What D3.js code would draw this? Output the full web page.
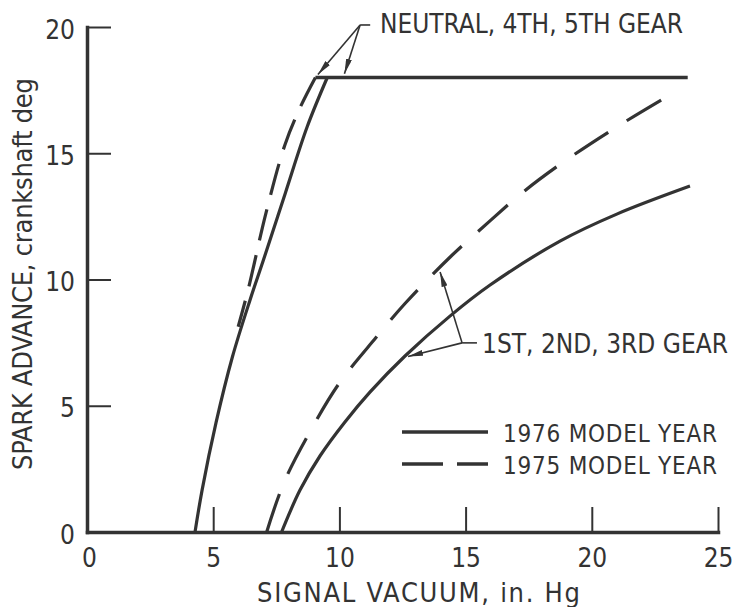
<!DOCTYPE html>
<html>
<head>
<meta charset="utf-8">
<script src="https://cdn.jsdelivr.net/npm/d3@7"></script>
<style>
  body { margin: 0; background: #fff; }
  svg text {
    font-family: "Liberation Sans Narrow", "DejaVu Sans Condensed", "Roboto Condensed", "Liberation Sans", sans-serif;
    font-stretch: condensed;
    fill: #333;
  }
</style>
</head>
<body>
<svg id="chart" width="735" height="607"></svg>
<script>
// Axis ticks
const xTickValues = [0, 5, 10, 15, 20, 25];
const yTickValues = [0, 5, 10, 15, 20];

// Neutral, 4th, 5th gear — 1976 model year (solid)
const neutral1976X = [4.28, 4.56, 5.11, 5.76, 6.46, 6.99, 7.86, 8.72, 9.52];
const neutral1976Y = [0, 1.66, 4.32, 6.93, 9.19, 10.77, 13.43, 16.04, 18.0];

// Neutral, 4th, 5th gear — 1975 model year (dashed), traced from the knee downward
const neutral1975X = [9.05, 8.44, 7.84, 7.09, 6.38, 5.99];
const neutral1975Y = [18, 16.8, 15.33, 12.63, 9.58, 8.13];

// Common maximum-advance plateau
const plateauX = [9.05, 23.8];
const plateauY = [18, 18];

// 1st, 2nd, 3rd gear — 1976 model year (solid)
const gear1976X = [7.71, 8.44, 9.23, 10.22, 11.21, 12.6, 14.38, 15.97, 18.74, 20.99, 23.89];
const gear1976Y = [0, 1.66, 3.01, 4.36, 5.54, 6.97, 8.55, 9.78, 11.52, 12.59, 13.7];

// 1st, 2nd, 3rd gear — 1975 model year (dashed)
const gear1975X = [7.12, 7.8, 8.85, 10.0, 11.45, 12.6, 14.4, 16.0, 17.2, 18.8, 21.0, 23.25];
const gear1975Y = [0, 1.95, 4.0, 5.9, 7.7, 9.05, 10.9, 12.35, 13.4, 14.6, 16.05, 17.4];

// Labels
const xTitle = "SIGNAL VACUUM,  in. Hg";
const yTitle = "SPARK ADVANCE,  crankshaft deg";
const neutralLabel = "NEUTRAL,  4TH,  5TH GEAR";
const gearLabel = "1ST,  2ND,  3RD GEAR";
const legendLabels = ["1976 MODEL YEAR", "1975 MODEL YEAR"];

const ink = "#333";
const svg = d3.select("#chart");

const x = d3.scaleLinear().domain([0, 25]).range([87, 718]);
const y = d3.scaleLinear().domain([0, 20]).range([532, 27]);

const zip = (xs, ys) => xs.map((v, i) => [v, ys[i]]);
const line = d3.line().x(d => x(d[0])).y(d => y(d[1])).curve(d3.curveCatmullRom.alpha(0.5));

// Arrowhead marker for the callouts
svg.append("defs").append("marker")
  .attr("id", "arrow")
  .attr("viewBox", "0 0 15 6")
  .attr("refX", 15).attr("refY", 3)
  .attr("markerWidth", 15).attr("markerHeight", 6)
  .attr("markerUnits", "userSpaceOnUse")
  .attr("orient", "auto")
  .append("path").attr("d", "M0,0 L15,3 L0,6 Z").attr("fill", ink);

// Axes: ticks point into the plot
const xAxis = svg.append("g").attr("transform", `translate(0,${y(0)})`)
  .call(d3.axisBottom(x).tickValues(xTickValues).tickSize(-25).tickSizeOuter(0).tickFormat(d3.format("d")));
const yAxis = svg.append("g").attr("transform", `translate(${x(0)},0)`)
  .call(d3.axisLeft(y).tickValues(yTickValues).tickSize(-24).tickSizeOuter(0).tickFormat(d3.format("d")));

[xAxis, yAxis].forEach(g => {
  g.select(".domain").attr("stroke", ink).attr("stroke-width", 3.5).attr("stroke-linecap", "square");
  g.selectAll(".tick line").attr("stroke", ink).attr("stroke-width", 2);
  g.selectAll(".tick text").attr("font-size", 26).attr("fill", ink);
});
xAxis.selectAll(".tick line").filter(d => d === 0).remove();
yAxis.selectAll(".tick line").filter(d => d === 0).remove();
xAxis.selectAll(".tick text").attr("y", 35).attr("dy", null).attr("text-anchor", "middle");
xAxis.selectAll(".tick text").filter(d => d === 0).attr("dx", 2);
yAxis.selectAll(".tick text").attr("x", -12).attr("dy", null).attr("y", 11).attr("text-anchor", "end");

// Axis titles
svg.append("text")
  .attr("x", 257).attr("y", 602)
  .attr("font-size", 27)
  .attr("textLength", 323).attr("lengthAdjust", "spacing")
  .text(xTitle);

svg.append("text")
  .attr("transform", "translate(32,470) rotate(-90)")
  .attr("font-size", 27)
  .attr("textLength", 392).attr("lengthAdjust", "spacing")
  .text(yTitle);

// Curves
const curves = svg.append("g").attr("fill", "none").attr("stroke", ink)
  .attr("stroke-width", 3.2).attr("stroke-linejoin", "round");

curves.append("path").attr("d", line(zip(plateauX, plateauY))).attr("stroke-width", 3.6);
curves.append("path").attr("d", line(zip(neutral1976X, neutral1976Y)));
curves.append("path").attr("d", line(zip(neutral1975X, neutral1975Y)))
  .attr("stroke-dasharray", "32,15");
curves.append("path").attr("d", line(zip(gear1976X, gear1976Y)));
curves.append("path").attr("d", line(zip(gear1975X, gear1975Y)))
  .attr("stroke-dasharray", "40,22");

// Callouts
const callouts = svg.append("g").attr("fill", "none").attr("stroke", ink).attr("stroke-width", 1.6);

// Neutral, 4th, 5th gear callout
const nVertex = [10.82, 20.08];
callouts.append("line")
  .attr("x1", x(nVertex[0])).attr("y1", y(nVertex[1]))
  .attr("x2", x(11.22)).attr("y2", y(nVertex[1]));
[[9.15, 18.12], [10.2, 18.15]].forEach(t => {
  callouts.append("line")
    .attr("x1", x(nVertex[0])).attr("y1", y(nVertex[1]))
    .attr("x2", x(t[0])).attr("y2", y(t[1]))
    .attr("marker-end", "url(#arrow)");
});
svg.append("text")
  .attr("x", x(11.61)).attr("y", y(19.76))
  .attr("font-size", 26)
  .attr("textLength", 303).attr("lengthAdjust", "spacing")
  .text(neutralLabel);

// 1st, 2nd, 3rd gear callout
const gVertex = [14.86, 7.49];
callouts.append("line")
  .attr("x1", x(gVertex[0])).attr("y1", y(gVertex[1]))
  .attr("x2", x(15.45)).attr("y2", y(gVertex[1]));
[[13.99, 10.3], [12.72, 6.95]].forEach(t => {
  callouts.append("line")
    .attr("x1", x(gVertex[0])).attr("y1", y(gVertex[1]))
    .attr("x2", x(t[0])).attr("y2", y(t[1]))
    .attr("marker-end", "url(#arrow)");
});
svg.append("text")
  .attr("x", x(15.65)).attr("y", y(7.09))
  .attr("font-size", 26)
  .attr("textLength", 246).attr("lengthAdjust", "spacing")
  .text(gearLabel);

// Legend
const legend = svg.append("g").attr("transform", "translate(402,432)");
const legendRows = legend.selectAll("g").data(legendLabels).join("g")
  .attr("transform", (d, i) => `translate(0,${i * 32})`);
legendRows.append("line")
  .attr("x1", 0).attr("x2", 86).attr("y1", 0).attr("y2", 0)
  .attr("stroke", ink).attr("stroke-width", 3.6)
  .attr("stroke-dasharray", (d, i) => i === 0 ? null : "41,14");
legendRows.append("text")
  .attr("x", 101).attr("y", 10)
  .attr("font-size", 24)
  .attr("textLength", 214).attr("lengthAdjust", "spacing")
  .text(d => d);
</script>
</body>
</html>
